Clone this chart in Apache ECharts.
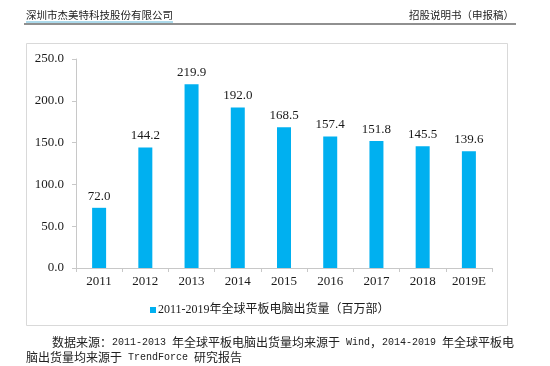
<!DOCTYPE html>
<html>
<head>
<meta charset="utf-8">
<script src="https://cdn.jsdelivr.net/npm/echarts@6/dist/echarts.min.js"></script>
<style>
html,body{margin:0;padding:0;background:#fff;}
#c{width:550px;height:366px;}
</style>
</head>
<body>
<div id="c"></div>
<script>
const categories = ['2011','2012','2013','2014','2015','2016','2017','2018','2019E'];
const shipments = [72.0, 144.2, 219.9, 192.0, 168.5, 157.4, 151.8, 145.5, 139.6];
const seriesName = '2011-2019年全球平板电脑出货量（百万部）';
const headerLeft = '深圳市杰美特科技股份有限公司';
const headerRight = '招股说明书（申报稿）';

const serif = "'Liberation Serif', 'Times New Roman', 'Noto Sans CJK SC'";
const textColor = '#1a1a1a';

const chart = echarts.init(document.getElementById('c'), null, {renderer: 'canvas'});
chart.setOption({
  backgroundColor: '#fff',
  animation: false,
  grid: {left: 76, top: 59, width: 416, height: 209, containLabel: false},
  xAxis: {
    type: 'category',
    data: categories,
    axisLine: {lineStyle: {color: '#c8c8c8', width: 1}},
    axisTick: {show: true, length: 4, lineStyle: {color: '#c8c8c8'}},
    axisLabel: {margin: 7, color: textColor, fontFamily: serif, fontSize: 13}
  },
  yAxis: {
    type: 'value',
    min: 0, max: 250, interval: 50,
    axisLine: {show: true, lineStyle: {color: '#c8c8c8', width: 1}},
    axisTick: {show: true, length: 4, lineStyle: {color: '#c8c8c8'}},
    splitLine: {show: false},
    axisLabel: {margin: 12, color: textColor, fontFamily: serif, fontSize: 13,
      formatter: v => v.toFixed(1)}
  },
  legend: {
    data: [seriesName],
    left: 145, top: 299,
    itemWidth: 6, itemHeight: 6, itemGap: 10,
    icon: 'rect',
    textStyle: {color: textColor, fontFamily: serif, fontSize: 12, padding: [0,0,0,-3]}
  },
  series: [{
    name: seriesName,
    type: 'bar',
    data: shipments,
    barWidth: 14,
    itemStyle: {color: '#00B0F0'},
    label: {show: true, position: 'top', distance: 5, color: textColor,
      fontFamily: serif, fontSize: 13, formatter: p => p.value.toFixed(1)}
  }],
  graphic: [
    {type: 'rect', shape: {x: 26.5, y: 43.5, width: 481, height: 282},
      style: {fill: 'none', stroke: '#d9d9d9', lineWidth: 1}, silent: true, z: -1},
    {type: 'text', left: 26, top: 10,
      style: {text: headerLeft, fontSize: 10.5, fill: '#222', fontFamily: "'Noto Sans CJK SC'"}},
    {type: 'line', shape: {x1: 26, y1: 22, x2: 173, y2: 22},
      style: {stroke: '#5ab4d6', lineWidth: 1}},
    {type: 'line', shape: {x1: 24, y1: 24, x2: 516, y2: 24},
      style: {stroke: '#222', lineWidth: 1.2}},
    {type: 'text', right: 36, top: 10,
      style: {text: headerRight, fontSize: 10.5, fill: '#222', fontFamily: "'Noto Sans CJK SC'"}},
    {type: 'text', left: 52, top: 336,
      style: {
        text: '{c|数据来源：}{m|2011-2013 }{c|年全球平板电脑出货量均来源于}{m| Wind}{c|，}{m|2014-2019 }{c|年全球平板电}',
        rich: {
          c: {fontSize: 12, fontFamily: "'Noto Sans CJK SC'", fill: '#222'},
          m: {fontSize: 10, fontFamily: "'Liberation Mono'", fill: '#222'}
        }
      }},
    {type: 'text', left: 26, top: 351,
      style: {
        text: '{c|脑出货量均来源于}{m| TrendForce }{c|研究报告}',
        rich: {
          c: {fontSize: 12, fontFamily: "'Noto Sans CJK SC'", fill: '#222'},
          m: {fontSize: 10, fontFamily: "'Liberation Mono'", fill: '#222'}
        }
      }}
  ]
});
</script>
</body>
</html>
